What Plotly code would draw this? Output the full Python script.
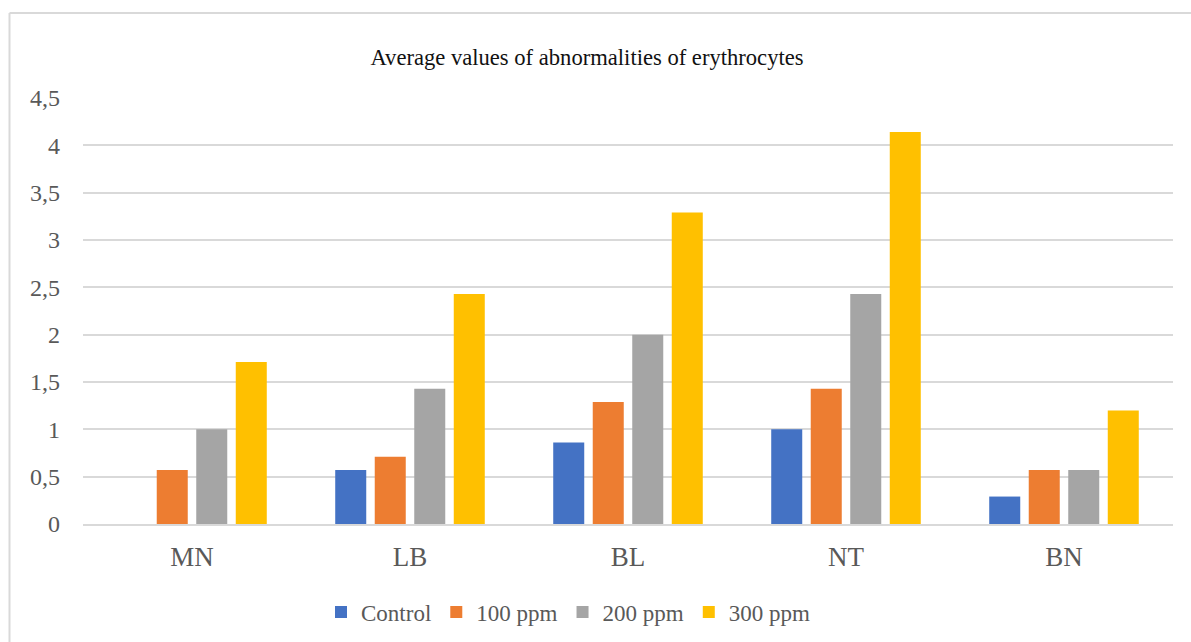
import plotly.graph_objects as go

categories = ["MN", "LB", "BL", "NT", "BN"]
series_names = ["Control", "100 ppm", "200 ppm", "300 ppm"]
control = [0, 0.57, 0.86, 1.0, 0.29]
ppm100 = [0.57, 0.71, 1.29, 1.43, 0.57]
ppm200 = [1.0, 1.43, 2.0, 2.43, 0.57]
ppm300 = [1.71, 2.43, 3.29, 4.14, 1.2]
colors = ["#4472C4", "#ED7D31", "#A5A5A5", "#FFC000"]

W, H = 1191, 642
ML, MR, MT, MB = 83, 18, 98, 118
PW, PH = W - ML - MR, H - MT - MB

def px_x(px):
    return (px - ML) / PW

def px_y(py):
    return (H - MB - py) / PH

fig = go.Figure()
for name, vals, col in zip(series_names, [control, ppm100, ppm200, ppm300], colors):
    fig.add_trace(go.Bar(name=name, x=categories, y=vals, marker=dict(color=col, line=dict(width=0))))

font = "Liberation Serif, Times New Roman, serif"
fig.update_layout(
    width=W, height=H,
    margin=dict(l=ML, r=MR, t=MT, b=MB, autoexpand=False),
    paper_bgcolor="white", plot_bgcolor="white",
    barmode="group", bargap=0.275, bargroupgap=0.215,
    separators=", ",
    font=dict(family=font, size=24, color="#595959"),
    title=dict(text="Average values of abnormalities of erythrocytes",
               x=587 / W, xanchor="center", y=1 - 57 / H, yanchor="middle",
               yref="container", font=dict(family=font, size=22.6, color="#111111")),
    legend=dict(orientation="h", x=px_x(321), xanchor="left",
                yref="container", y=(H - 612) / H, yanchor="middle",
                font=dict(family=font, size=23, color="#595959"), itemwidth=30,
                traceorder="normal"),
    showlegend=True,
)
fig.update_yaxes(range=[0, 4.5], dtick=0.5, showgrid=True, gridcolor="#d9d9d9", gridwidth=1.5,
                 zeroline=False, showline=False, ticks="", ticklabelstandoff=22,
                 tickfont=dict(family=font, size=24, color="#595959"))
fig.update_xaxes(showline=True, linecolor="#d9d9d9", linewidth=1.5, ticks="", ticklabelstandoff=8,
                 tickfont=dict(family=font, size=27, color="#595959"))

bx = px_x(9.5)
by = px_y(13)
fig.add_shape(type="line", xref="paper", yref="paper", x0=bx, x1=bx, y0=by, y1=px_y(700),
              line=dict(color="#d9d9d9", width=2))
fig.add_shape(type="line", xref="paper", yref="paper", x0=bx, x1=px_x(1250), y0=by, y1=by,
              line=dict(color="#d9d9d9", width=2))

fig.write_html("out.html", post_script="document.body.style.margin='0';",
               config={"displayModeBar": False})
